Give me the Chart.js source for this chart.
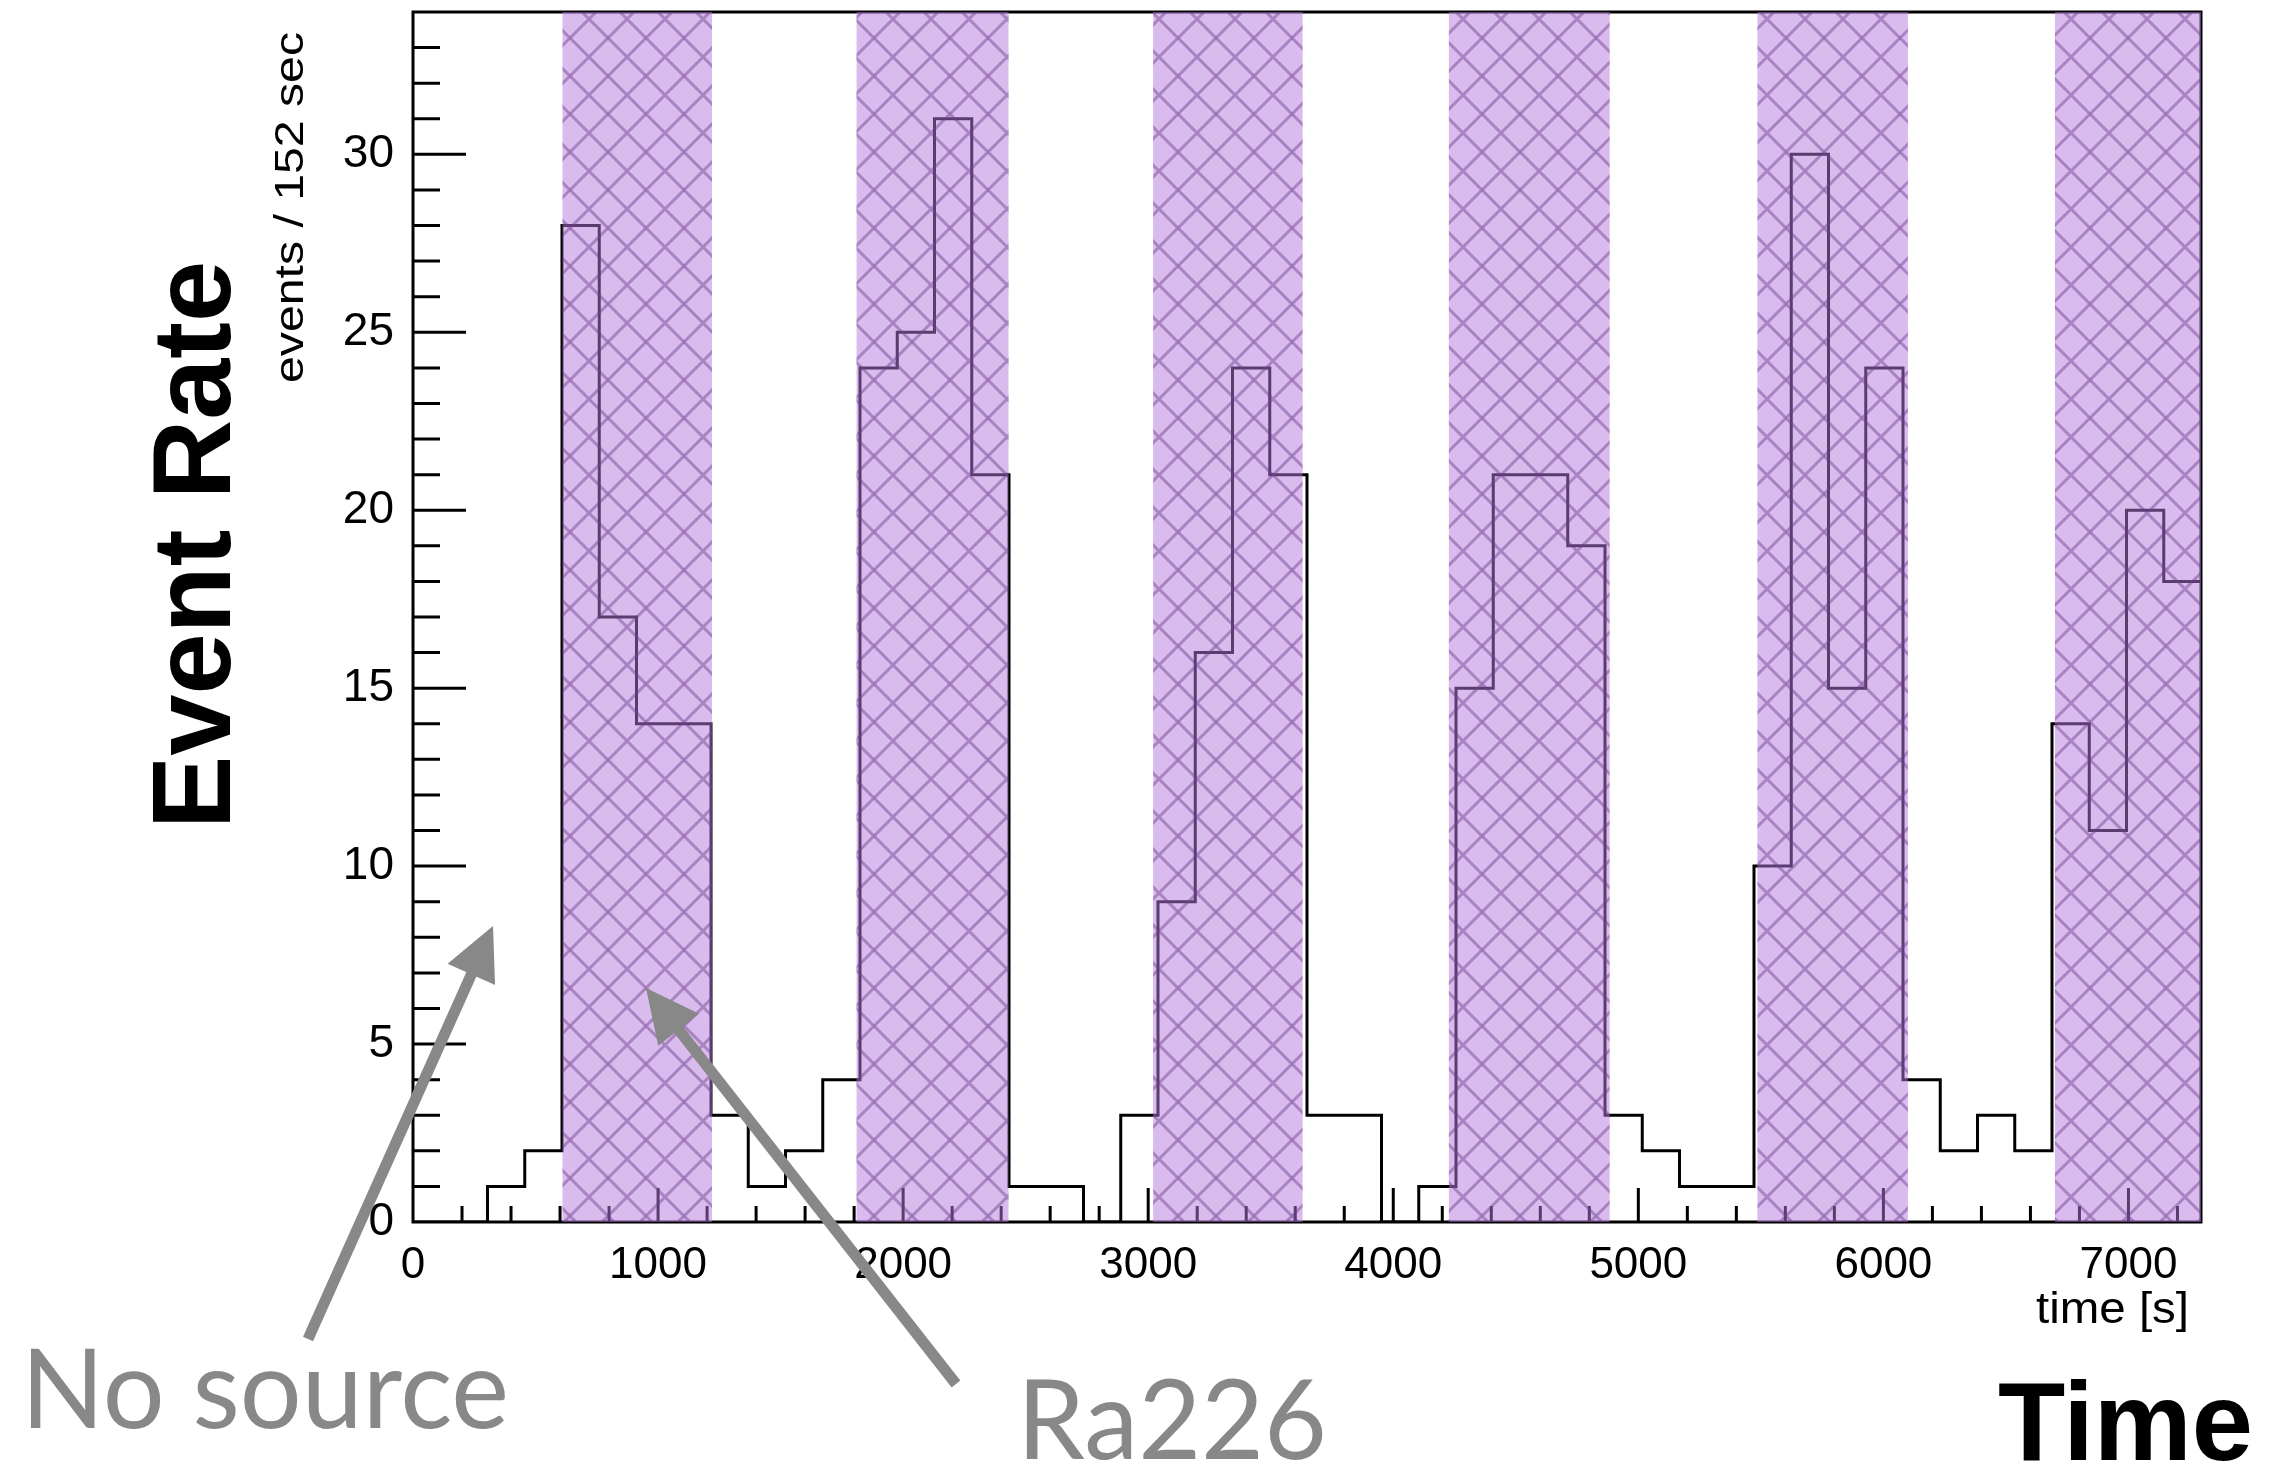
<!DOCTYPE html>
<html>
<head>
<meta charset="utf-8">
<title>Event Rate</title>
<script src="https://cdn.jsdelivr.net/npm/chart.js@4.4.1/dist/chart.umd.min.js"></script>
<style>
  html, body { margin: 0; padding: 0; background: #fff; }
  canvas { display: block; }
</style>
</head>
<body>
<canvas id="rateChart" width="2269" height="1464"></canvas>
<script>
'use strict';

// Histogram binning (seconds per bin) and counts per bin
var binWidth = 152;
var binCounts = [
  0, 0, 1, 2, 28, 17, 14, 14,
  3, 1, 2, 4, 24, 25, 31, 21,
  1, 1, 0, 3, 9, 16, 24, 21,
  3, 3, 0, 1, 15, 21, 21, 19,
  3, 2, 1, 1, 10, 30, 15, 24,
  4, 2, 3, 2, 14, 11, 20, 18
];

// Periods with the Ra226 source in place (seconds)
var sourceStart = [610, 1810, 3020, 4227, 5486, 6700];
var sourceEnd = [1220, 2430, 3630, 4883, 6100, 7296];

// Axis ticks
var xTickStep = 200;
var xLabelStep = 1000;
var yTickStep = 1;
var yLabelStep = 5;
var yMax = 34;

// Texts
var yTitle = 'events / ' + binWidth + ' sec';
var xTitle = 'time [s]';

/**
 * Annotation layout (pixels on the page), kept apart from the data.
 */
var layout = {
  eventRate: { x: 230, y: 829, width: 568 },
  yTitle: { x: 303, y: 383, width: 351 },
  xTitle: { x: 2036, y: 1323, width: 153 },
  noSource: { x: 21, y: 1428, width: 488 },
  ra226: { x: 1017, y: 1459, width: 310 },
  time: { x: 1998, y: 1460, width: 255 },
  arrows: [
    { tail: { x: 308, y: 1339 }, tip: { x: 493, y: 926 } },
    { tail: { x: 956, y: 1384 }, tip: { x: 646, y: 988 } }
  ]
};

var sansFamily = "'Liberation Sans', Arial, sans-serif";
var noteGray = '#888888';

// Step outline points: left edge of every bin, plus the right edge of the last one.
// With stepped 'before' each point's value runs on until the next point.
var histPoints = binCounts.map(function(count, i) {
  return { x: i * binWidth, y: count };
});
histPoints.push({ x: binCounts.length * binWidth, y: binCounts[binCounts.length - 1] });
var xMax = binCounts.length * binWidth;

/**
 * Cross hatch tile for the source bands.
 */
function makeHatch() {
  var size = 38;
  var tile = document.createElement('canvas');
  tile.width = size;
  tile.height = size;
  var t = tile.getContext('2d');
  t.strokeStyle = 'rgba(110, 60, 140, 0.45)';
  t.lineWidth = 3;
  for (var k = -1; k <= 1; k++) {
    t.beginPath();
    t.moveTo(k * size, 0);
    t.lineTo(k * size + size, size);
    t.moveTo(k * size, size);
    t.lineTo(k * size + size, 0);
    t.stroke();
  }
  return t.createPattern(tile, 'repeat');
}

/**
 * Draw text from a baseline start point, stretched to a given width.
 */
function fitText(ctx, text, x, y, width, font, color, angle) {
  ctx.save();
  ctx.translate(x, y);
  ctx.rotate(angle || 0);
  ctx.font = font;
  ctx.fillStyle = color;
  ctx.textAlign = 'left';
  ctx.textBaseline = 'alphabetic';
  var w = ctx.measureText(text).width;
  ctx.scale(width / w, 1);
  ctx.fillText(text, 0, 0);
  ctx.restore();
}

function drawArrow(ctx, tail, tip) {
  var dx = tip.x - tail.x;
  var dy = tip.y - tail.y;
  var len = Math.sqrt(dx * dx + dy * dy);
  var ux = dx / len;
  var uy = dy / len;
  var headLen = 53;
  var headHalf = 26;
  var bx = tip.x - ux * headLen;
  var by = tip.y - uy * headLen;

  ctx.save();
  ctx.strokeStyle = noteGray;
  ctx.fillStyle = noteGray;
  ctx.lineWidth = 11;
  ctx.lineCap = 'butt';
  ctx.beginPath();
  ctx.moveTo(tail.x, tail.y);
  ctx.lineTo(bx + ux * 4, by + uy * 4);
  ctx.stroke();
  ctx.beginPath();
  ctx.moveTo(tip.x, tip.y);
  ctx.lineTo(bx - uy * headHalf, by + ux * headHalf);
  ctx.lineTo(bx + uy * headHalf, by - ux * headHalf);
  ctx.closePath();
  ctx.fill();
  ctx.restore();
}

/**
 * ROOT style frame: inward ticks, source bands and slide annotations.
 */
var rootStyle = {
  id: 'rootStyle',
  afterDatasetsDraw: function(chart) {
    var ctx = chart.ctx;
    var area = chart.chartArea;
    var xs = chart.scales.x;
    var ys = chart.scales.y;
    var v, px, py, len;

    ctx.save();
    ctx.strokeStyle = '#000';
    ctx.lineWidth = 3;

    // x ticks, pointing up into the frame
    ctx.beginPath();
    for (v = xTickStep; v < xMax; v += xTickStep) {
      px = xs.getPixelForValue(v);
      len = v % xLabelStep === 0 ? 34 : 16;
      ctx.moveTo(px, area.bottom);
      ctx.lineTo(px, area.bottom - len);
    }
    // y ticks, pointing right into the frame
    for (v = yTickStep; v < yMax; v += yTickStep) {
      py = ys.getPixelForValue(v);
      len = v % yLabelStep === 0 ? 53 : 27;
      ctx.moveTo(area.left, py);
      ctx.lineTo(area.left + len, py);
    }
    ctx.stroke();

    ctx.strokeRect(area.left, area.top, area.right - area.left, area.bottom - area.top);
    ctx.restore();

    // Ra226 source bands, drawn over the outline
    var hatch = makeHatch();
    ctx.save();
    for (var i = 0; i < sourceStart.length; i++) {
      var x0 = xs.getPixelForValue(sourceStart[i]);
      var x1 = xs.getPixelForValue(sourceEnd[i]);
      ctx.fillStyle = 'rgba(180, 120, 220, 0.5)';
      ctx.fillRect(x0, area.top, x1 - x0, area.bottom - area.top);
      ctx.fillStyle = hatch;
      ctx.fillRect(x0, area.top, x1 - x0, area.bottom - area.top);
    }
    ctx.restore();
  },
  afterDraw: function(chart) {
    var ctx = chart.ctx;
    var up = -Math.PI / 2;

    fitText(ctx, 'Event Rate', layout.eventRate.x, layout.eventRate.y, layout.eventRate.width,
      'bold 112px ' + sansFamily, '#000', up);
    fitText(ctx, yTitle, layout.yTitle.x, layout.yTitle.y, layout.yTitle.width,
      '40px ' + sansFamily, '#000', up);
    fitText(ctx, xTitle, layout.xTitle.x, layout.xTitle.y, layout.xTitle.width,
      '44px ' + sansFamily, '#000', 0);
    fitText(ctx, 'No source', layout.noSource.x, layout.noSource.y, layout.noSource.width,
      '110px Lato, sans-serif', noteGray, 0);
    fitText(ctx, 'Ra226', layout.ra226.x, layout.ra226.y, layout.ra226.width,
      '110px Lato, sans-serif', noteGray, 0);
    fitText(ctx, 'Time', layout.time.x, layout.time.y, layout.time.width,
      'bold 112px ' + sansFamily, '#000', 0);

    layout.arrows.forEach(function(a) {
      drawArrow(ctx, a.tail, a.tip);
    });
  }
};

var ctx = document.getElementById('rateChart').getContext('2d');
var rateChart = new Chart(ctx, {
  type: 'line',
  data: {
    datasets: [{
      label: 'events',
      data: histPoints,
      stepped: 'before',
      borderColor: '#000',
      borderWidth: 3,
      borderJoinStyle: 'miter',
      pointRadius: 0,
      fill: false
    }]
  },
  options: {
    responsive: false,
    animation: false,
    layout: {
      padding: { left: 0, right: 68, top: 12, bottom: 0 }
    },
    plugins: {
      legend: { display: false },
      tooltip: { enabled: false }
    },
    scales: {
      x: {
        type: 'linear',
        min: 0,
        max: xMax,
        grid: { display: false },
        border: { display: false },
        ticks: {
          stepSize: xTickStep,
          includeBounds: false,
          autoSkip: false,
          maxRotation: 0,
          padding: 9,
          color: '#000',
          font: { family: sansFamily, size: 44 },
          callback: function(value) {
            return value % xLabelStep === 0 ? String(value) : '';
          }
        },
        afterFit: function(scale) {
          scale.height = 242;
          scale.paddingLeft = 0;
          scale.paddingRight = 0;
        }
      },
      y: {
        type: 'linear',
        min: 0,
        max: yMax,
        grid: { display: false },
        border: { display: false },
        ticks: {
          stepSize: yTickStep,
          autoSkip: false,
          padding: 11,
          color: '#000',
          font: { family: sansFamily, size: 46 },
          callback: function(value) {
            return value % yLabelStep === 0 ? String(value) : '';
          }
        },
        afterFit: function(scale) {
          scale.width = 413;
          scale.paddingTop = 0;
          scale.paddingBottom = 0;
        }
      }
    }
  },
  plugins: [rootStyle]
});
</script>
</body>
</html>
